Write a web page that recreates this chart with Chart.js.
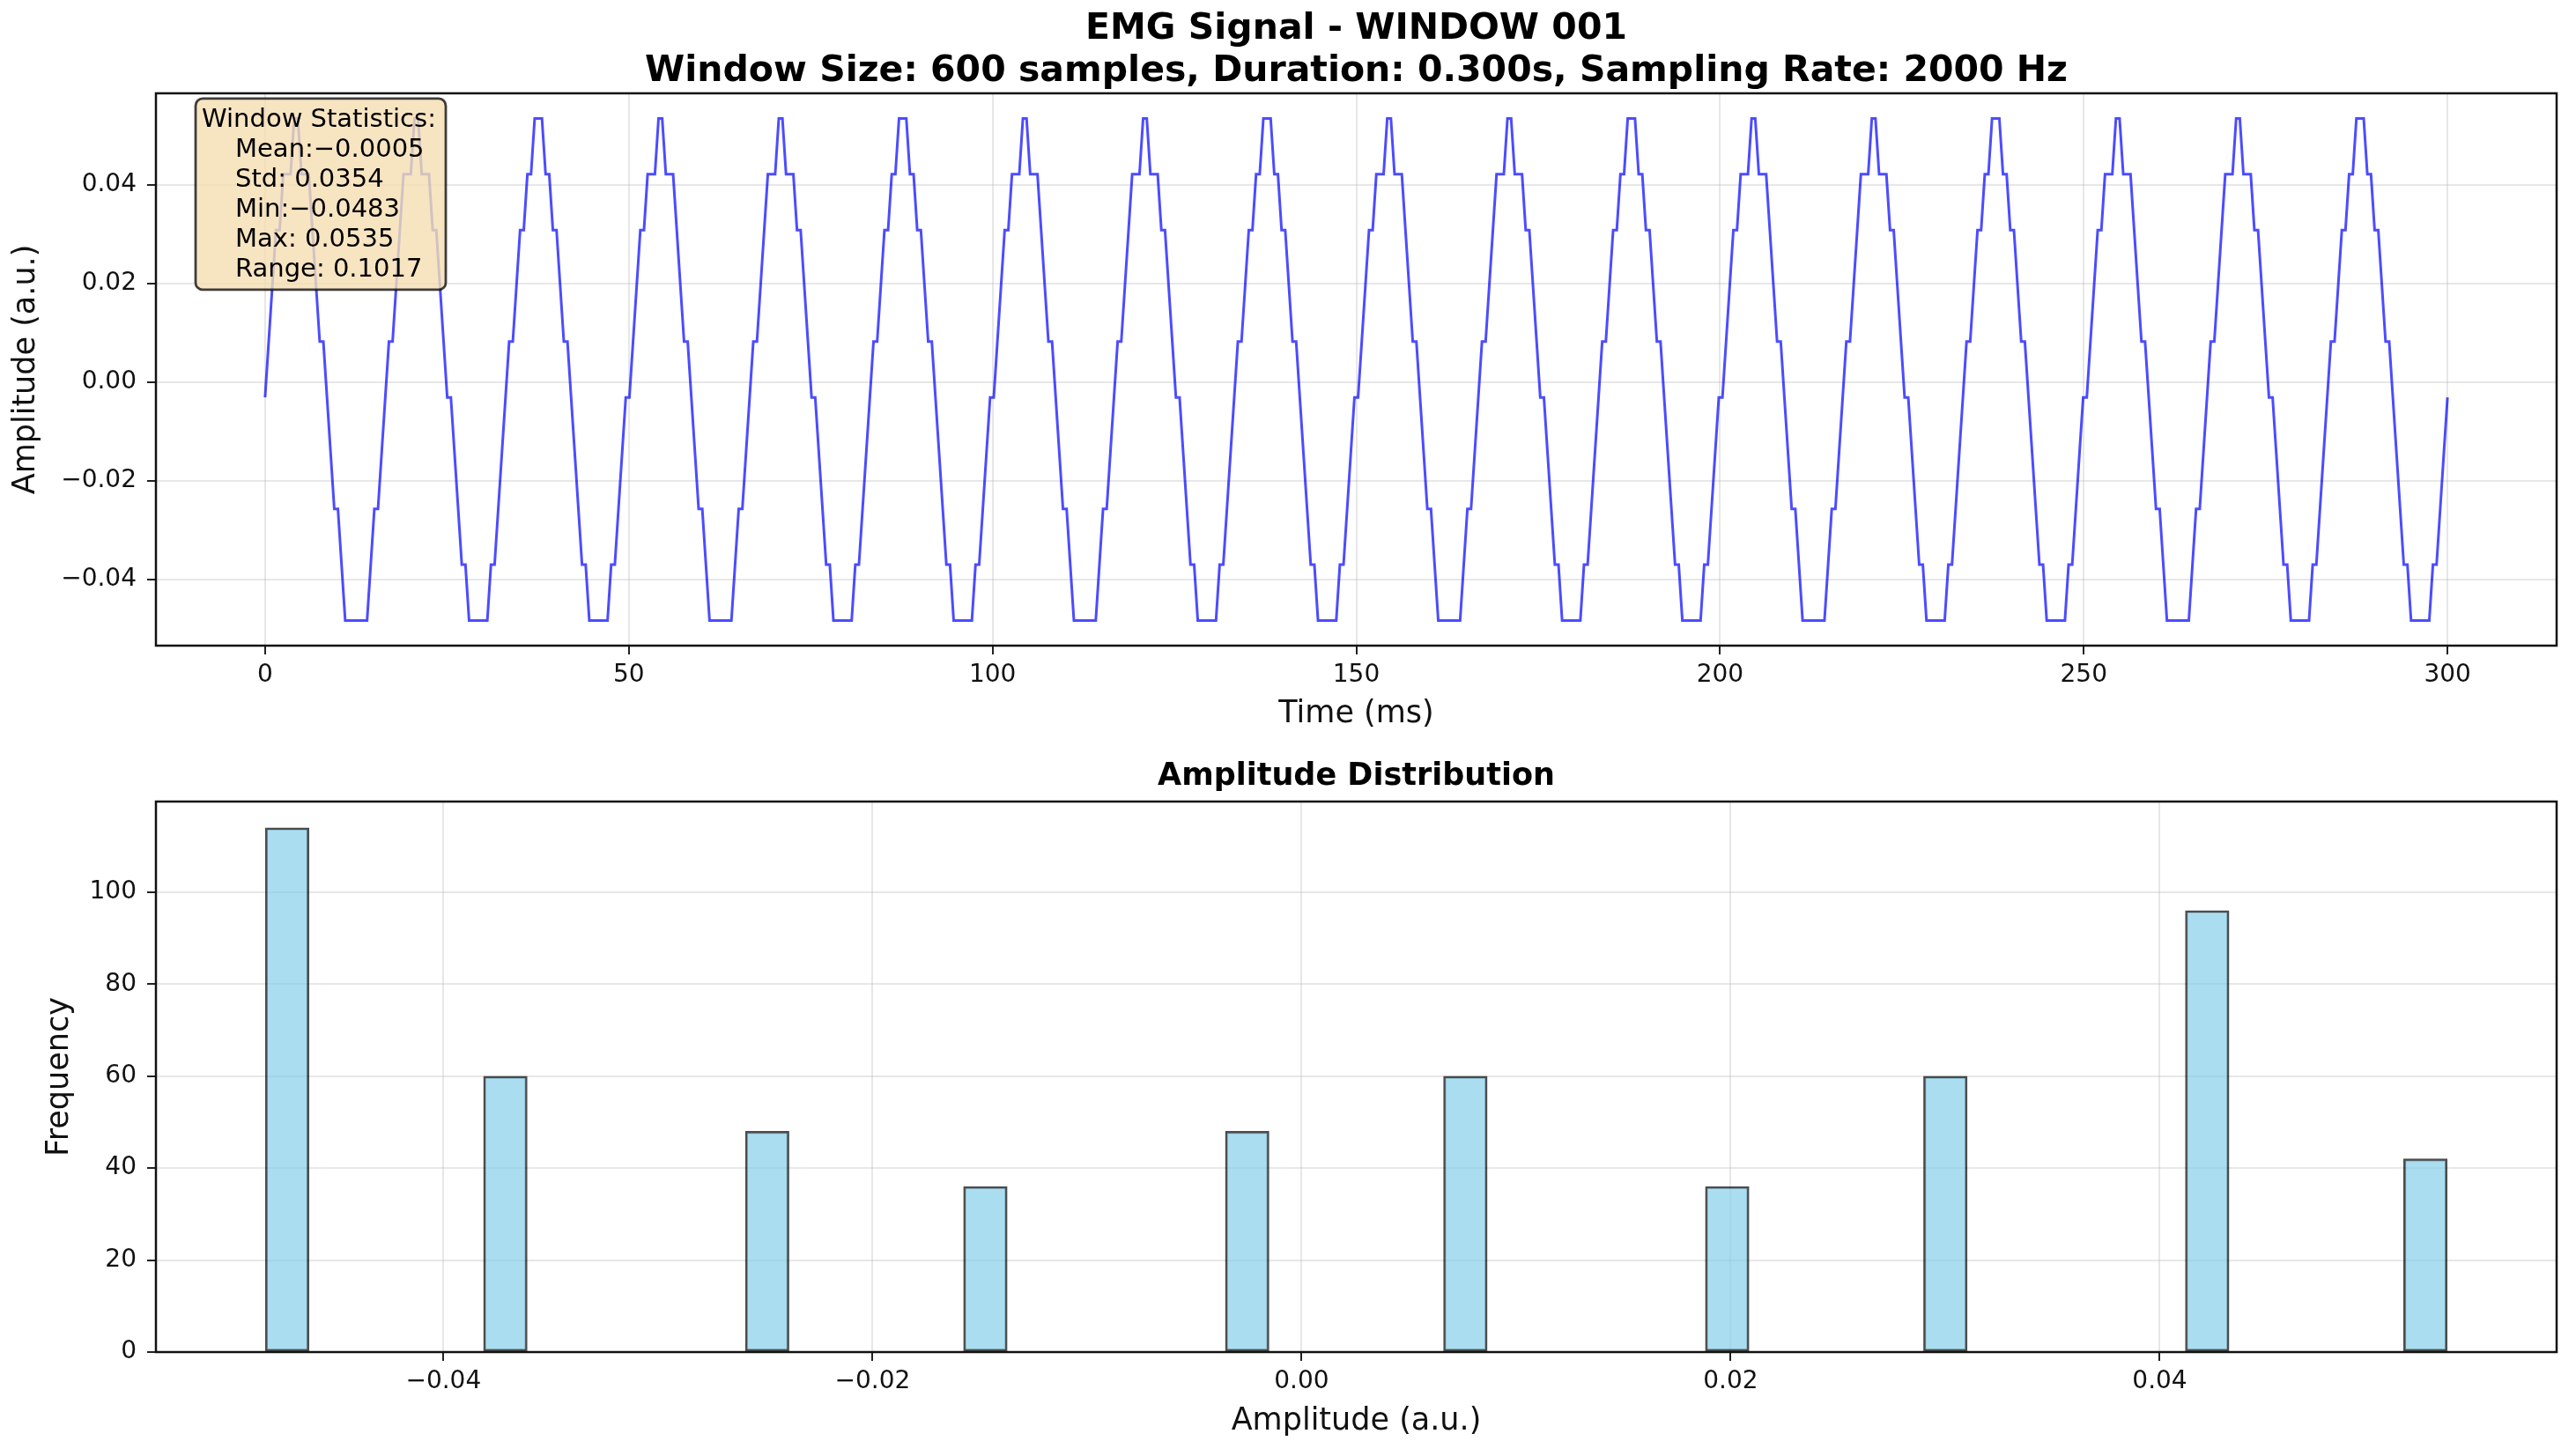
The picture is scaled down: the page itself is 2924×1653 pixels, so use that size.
<!DOCTYPE html>
<html>
<head>
<meta charset="utf-8">
<script src="https://cdn.jsdelivr.net/npm/chart.js@4.4.0/dist/chart.umd.min.js"></script>
<style>
html, body { margin: 0; padding: 0; background: #fff; }
#wrap { position: relative; width: 2924px; height: 1653px; }
canvas { position: absolute; left: 0; }
#signalChart { top: 0; }
#histChart { top: 840px; }
</style>
</head>
<body>
<div id="wrap">
  <canvas id="signalChart" width="2924" height="840"></canvas>
  <canvas id="histChart" width="2924" height="813"></canvas>
</div>
<script>
// Signal window
const sampleRate = 2000;      // Hz
const durationMs = 300;
// quantised amplitude levels (a.u.)
const levels = [-0.0483, -0.0370, -0.0257, -0.0144, -0.0031, 0.0082, 0.0195, 0.0308, 0.0421, 0.0534];
// level index of every sample, 600 samples (pattern repeats every 100)
const signalCodes = [
    '4567788899 8887655432 2100000001 2234556788 8998887765 4432110000 0011234556 7788999887 7655432110 0000011234',
    '4567788899 8887655432 2100000001 2234556788 8998887765 4432110000 0011234556 7788999887 7655432110 0000011234',
    '4567788899 8887655432 2100000001 2234556788 8998887765 4432110000 0011234556 7788999887 7655432110 0000011234',
    '4567788899 8887655432 2100000001 2234556788 8998887765 4432110000 0011234556 7788999887 7655432110 0000011234',
    '4567788899 8887655432 2100000001 2234556788 8998887765 4432110000 0011234556 7788999887 7655432110 0000011234',
    '4567788899 8887655432 2100000001 2234556788 8998887765 4432110000 0011234556 7788999887 7655432110 0000011234'
].join('').replace(/ /g, '').split('').map(Number);

// Histogram (50 bins between min and max)
const histMin = -0.0483;
const histMax = 0.0534;
const binCounts = [
    114, 0, 0, 0, 0, 60, 0, 0, 0, 0,
    0, 48, 0, 0, 0, 0, 36, 0, 0, 0,
    0, 0, 48, 0, 0, 0, 0, 60, 0, 0,
    0, 0, 0, 36, 0, 0, 0, 0, 60, 0,
    0, 0, 0, 0, 96, 0, 0, 0, 0, 42
];

// Tick values
const timeTicks = [0, 50, 100, 150, 200, 250, 300];
const ampTicks = [-0.04, -0.02, 0, 0.02, 0.04];
const freqTicks = [0, 20, 40, 60, 80, 100];

const statLines = ['Window Statistics:', 'Mean:\u22120.0005', 'Std: 0.0354', 'Min:\u22120.0483', 'Max: 0.0535', 'Range: 0.1017'];

const titleLines = ['EMG Signal - WINDOW 001', 'Window Size: 600 samples, Duration: 0.300s, Sampling Rate: 2000 Hz'];

// build points
const nSamples = signalCodes.length;
const signalPoints = signalCodes.map((c, i) => ({ x: i * durationMs / (nSamples - 1), y: levels[c] }));
const binWidth = (histMax - histMin) / binCounts.length;
const histPoints = binCounts.map((c, i) => ({ x: histMin + (i + 0.5) * binWidth, y: c > 0 ? c : null }));

Chart.defaults.font.family = 'DejaVu Sans';
Chart.defaults.color = '#111';

const tickFont = { family: 'DejaVu Sans', size: 28 };
const labelFont = { family: 'DejaVu Sans', size: 35 };
const gridOpts = { color: 'rgba(176,176,176,0.3)', lineWidth: 2, tickColor: '#222', tickLength: 10, tickWidth: 2 };
const fmt = (v, d) => (v < 0 ? '\u2212' : '') + Math.abs(v).toFixed(d);

const framePlugin = {
    id: 'frame',
    afterDatasetsDraw(chart) {
        const { ctx, chartArea: a } = chart;
        ctx.save();
        ctx.strokeStyle = '#111';
        ctx.lineWidth = 2.5;
        ctx.strokeRect(a.left, a.top, a.right - a.left, a.bottom - a.top);
        ctx.restore();
    }
};

const statsPlugin = {
    id: 'stats',
    afterDraw(chart) {
        const { ctx, chartArea: a } = chart;
        const x = a.left + 45, y = a.top + 6;
        ctx.save();
        ctx.beginPath();
        ctx.roundRect(x, y, 284, 217, 8);
        ctx.fillStyle = 'rgba(245,222,179,0.8)';
        ctx.fill();
        ctx.strokeStyle = 'rgba(0,0,0,0.75)';
        ctx.lineWidth = 2.8;
        ctx.stroke();
        ctx.fillStyle = '#000';
        ctx.font = '29px "DejaVu Sans"';
        ctx.textBaseline = 'alphabetic';
        statLines.forEach((t, i) => {
            ctx.fillText(t, i === 0 ? x + 7 : x + 45, y + 32 + i * 34);
        });
        ctx.restore();
    }
};

// Top: time series
new Chart(document.getElementById('signalChart'), {
    type: 'line',
    data: {
        datasets: [{
            data: signalPoints,
            borderColor: 'rgba(0,0,255,0.7)',
            borderWidth: 3,
            pointRadius: 0,
            tension: 0,
            fill: false
        }]
    },
    options: {
        responsive: false,
        animation: false,
        events: [],
        layout: { padding: { left: 0, right: 22, top: 0, bottom: 0 } },
        plugins: {
            legend: { display: false },
            tooltip: { enabled: false },
            title: {
                display: true,
                text: titleLines,
                fullSize: false,
                color: '#000',
                font: { family: 'DejaVu Sans', size: 41, weight: 'bold', lineHeight: 1.17 },
                padding: { top: 9, bottom: 1 }
            }
        },
        scales: {
            x: {
                type: 'linear',
                min: -15,
                max: 315,
                afterBuildTicks: s => { s.ticks = timeTicks.map(v => ({ value: v })); },
                afterFit: s => { s.height = 107; },
                ticks: { font: tickFont, padding: 7, maxRotation: 0, callback: v => String(v) },
                grid: gridOpts,
                border: { display: false },
                title: { display: true, text: 'Time (ms)', font: labelFont, color: '#111', padding: { top: 0, bottom: 8.5 } }
            },
            y: {
                type: 'linear',
                min: -0.0534,
                max: 0.0585,
                afterBuildTicks: s => { s.ticks = ampTicks.map(v => ({ value: v })); },
                afterFit: s => { s.width = 177; },
                ticks: { font: tickFont, padding: 12, callback: v => fmt(v, 2) },
                grid: gridOpts,
                border: { display: false },
                title: { display: true, text: 'Amplitude (a.u.)', font: labelFont, color: '#111', padding: { top: 9, bottom: 0 } }
            }
        }
    },
    plugins: [framePlugin, statsPlugin]
});

// Bottom: amplitude histogram
new Chart(document.getElementById('histChart'), {
    type: 'bar',
    data: {
        datasets: [{
            data: histPoints,
            backgroundColor: 'rgba(135,206,235,0.7)',
            borderColor: 'rgba(0,0,0,0.7)',
            borderWidth: 2.5,
            borderSkipped: false,
            barPercentage: 1,
            categoryPercentage: 1
        }]
    },
    options: {
        responsive: false,
        animation: false,
        events: [],
        layout: { padding: { left: 0, right: 22, top: 0, bottom: 0 } },
        plugins: {
            legend: { display: false },
            tooltip: { enabled: false },
            title: {
                display: true,
                text: 'Amplitude Distribution',
                fullSize: false,
                color: '#000',
                font: { family: 'DejaVu Sans', size: 35, weight: 'bold', lineHeight: 1.2 },
                padding: { top: 21, bottom: 7 }
            }
        },
        scales: {
            x: {
                type: 'linear',
                min: -0.0534,
                max: 0.0585,
                offset: false,
                afterBuildTicks: s => { s.ticks = ampTicks.map(v => ({ value: v })); },
                afterFit: s => { s.height = 118; },
                ticks: { font: tickFont, padding: 7, maxRotation: 0, callback: v => fmt(v, 2) },
                grid: { ...gridOpts, offset: false },
                border: { display: false },
                title: { display: true, text: 'Amplitude (a.u.)', font: labelFont, color: '#111', padding: { top: 0, bottom: 18.5 } }
            },
            y: {
                type: 'linear',
                min: 0,
                max: 119.7,
                afterBuildTicks: s => { s.ticks = freqTicks.map(v => ({ value: v })); },
                afterFit: s => { s.width = 177; },
                ticks: { font: tickFont, padding: 12, callback: v => String(v) },
                grid: gridOpts,
                border: { display: false },
                title: { display: true, text: 'Frequency', font: labelFont, color: '#111', padding: { top: 47, bottom: 0 } }
            }
        }
    },
    plugins: [framePlugin]
});
</script>
</body>
</html>
